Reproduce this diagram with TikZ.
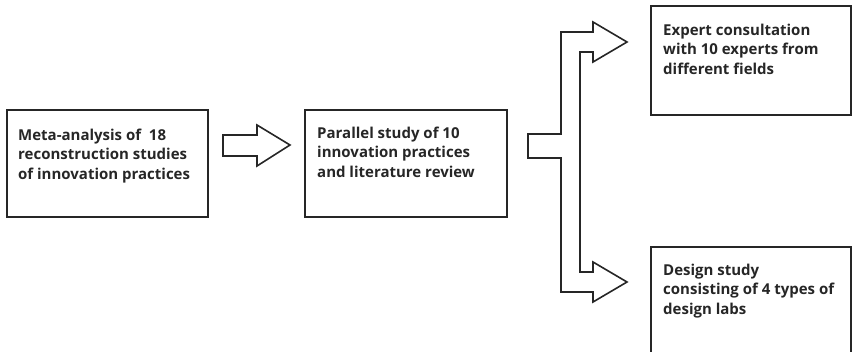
\documentclass[tikz,border=0pt]{standalone}
\usepackage{fontspec}
\setmainfont{Open Sans}
\begin{document}
\begin{tikzpicture}[x=1pt,y=-1pt,
  stagebox/.style={draw=black!85, line width=1.6pt},
  blockarrow/.style={draw=black!85, line width=1.6pt, line join=miter, fill=white},
  stagetext/.style={anchor=base west, inner sep=0pt, font=\fontsize{15}{19.5}\selectfont\bfseries, text=black!85}]
  \useasboundingbox (0,0) rectangle (852,351);
  \clip (0,0) rectangle (852,351);

  % stage boxes
  \draw[stagebox] (7,110) rectangle (208,217);
  \draw[stagebox] (305,110) rectangle (507,217);
  \draw[stagebox] (651,6) rectangle (851,115);
  \draw[stagebox] (651,247) rectangle (851,362);

  % labels
  \node[stagetext] (meta) at (18,140) {\begin{tabular}[t]{@{}l@{}}Meta-analysis of~ 18\\reconstruction studies\\of innovation practices\end{tabular}};
  \node[stagetext] (par) at (317,138) {\begin{tabular}[t]{@{}l@{}}Parallel study of 10\\innovation practices\\and literature review\end{tabular}};
  \node[stagetext] (exp) at (663,35) {\begin{tabular}[t]{@{}l@{}}Expert consultation\\with 10 experts from\\different fields\end{tabular}};
  \node[stagetext] (des) at (663,275) {\begin{tabular}[t]{@{}l@{}}Design study\\consisting of 4 types of\\design labs\end{tabular}};

  % straight block arrow between the first two stages
  \draw[blockarrow] (223,135) -- (257,135) -- (257,125) -- (290,145) -- (257,166)
    -- (257,156) -- (223,156) -- cycle;

  % forked block arrow towards the two final stages
  \draw[blockarrow] (528,134) -- (561,134) -- (561,32) -- (593,32) -- (593,22)
    -- (627,42) -- (593,62) -- (593,52) -- (580,52) -- (580,272) -- (593,272)
    -- (593,262) -- (627,282) -- (593,302) -- (593,292) -- (561,292)
    -- (561,158) -- (528,158) -- cycle;
\end{tikzpicture}
\end{document}
